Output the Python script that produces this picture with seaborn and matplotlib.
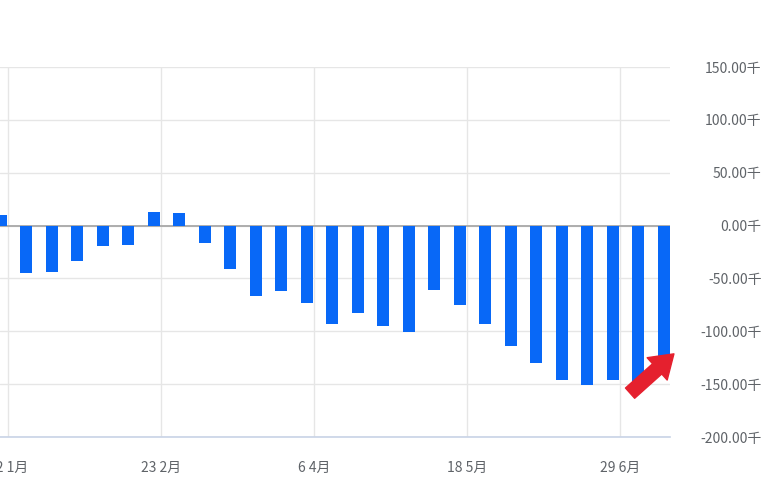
import pandas as pd
import seaborn as sns
import matplotlib
matplotlib.use("Agg")
import matplotlib.pyplot as plt
import matplotlib.dates as mdates
from matplotlib.patches import FancyArrowPatch

# weekly report dates (Tuesdays) and net position, in thousands
week_dates = [
    "2023-01-10", "2023-01-17", "2023-01-24", "2023-01-31", "2023-02-07",
    "2023-02-14", "2023-02-21", "2023-02-28", "2023-03-07", "2023-03-14",
    "2023-03-21", "2023-03-28", "2023-04-04", "2023-04-11", "2023-04-18",
    "2023-04-25", "2023-05-02", "2023-05-09", "2023-05-16", "2023-05-23",
    "2023-05-30", "2023-06-06", "2023-06-13", "2023-06-20", "2023-06-27",
    "2023-07-04", "2023-07-11",
]
net_values = [
    10, -45, -44, -33, -19,
    -18, 13, 12, -16, -41,
    -67, -62, -73, -93, -83,
    -95, -101, -61, -75, -93,
    -114, -130, -146, -151, -146,
    -150, -123,
]

# x ticks (every 6 weeks) and their labels
tick_dates = ["2023-01-12", "2023-02-23", "2023-04-06", "2023-05-18", "2023-06-29"]
tick_labels = ["12 1月", "23 2月", "6 4月", "18 5月", "29 6月"]
y_ticks = [-200, -150, -100, -50, 0, 50, 100, 150]

df = pd.DataFrame({"date": pd.to_datetime(week_dates), "value": net_values})
df["x"] = mdates.date2num(df["date"])
tick_x = mdates.date2num(pd.to_datetime(tick_dates))

sns.set_style("white")
plt.rcParams["font.family"] = ["Noto Sans CJK SC", "DejaVu Sans"]

fig = plt.figure(figsize=(7.78, 4.88), dpi=100)
ax = fig.add_axes([0.0, 0.1045, 0.861, 0.758])

ax.axhline(0, color="#a8a8a8", linewidth=1.3, zorder=1)
sns.barplot(data=df, x="x", y="value", native_scale=True, color="#0868f7",
            saturation=1, width=0.48, errorbar=None, linewidth=0, ax=ax, zorder=2)

ax.set_xlim(tick_x[0] - 2.2, tick_x[0] + 181.7)
ax.set_ylim(-200, 150)

ax.set_xticks(tick_x)
ax.set_xticklabels(tick_labels)
ax.set_yticks(y_ticks)
ax.set_yticklabels([f"{v:.2f}千" for v in y_ticks])
ax.yaxis.tick_right()
for lab in ax.get_yticklabels():
    lab.set_horizontalalignment("right")
ax.tick_params(axis="y", length=0, pad=66, labelsize=10, labelcolor="#5f6368")
ax.tick_params(axis="x", length=0, pad=17, labelsize=10, labelcolor="#5f6368")

ax.grid(True, color="#e6e6e6", linewidth=1)
ax.set_axisbelow(True)
for side in ["top", "left", "right"]:
    ax.spines[side].set_visible(False)
ax.spines["bottom"].set_color("#c8d3e6")
ax.spines["bottom"].set_linewidth(1.2)
ax.set_xlabel("")
ax.set_ylabel("")

# red pointer arrow at the latest bar
arrow = FancyArrowPatch((628 / 778, 1 - 395 / 488), (676 / 778, 1 - 352 / 488),
                        transform=fig.transFigure,
                        arrowstyle="simple,head_length=0.9,head_width=1.2,tail_width=0.55",
                        mutation_scale=18, color="#e5202e", zorder=5)
fig.patches.append(arrow)

fig.savefig("out.png", dpi=100)
